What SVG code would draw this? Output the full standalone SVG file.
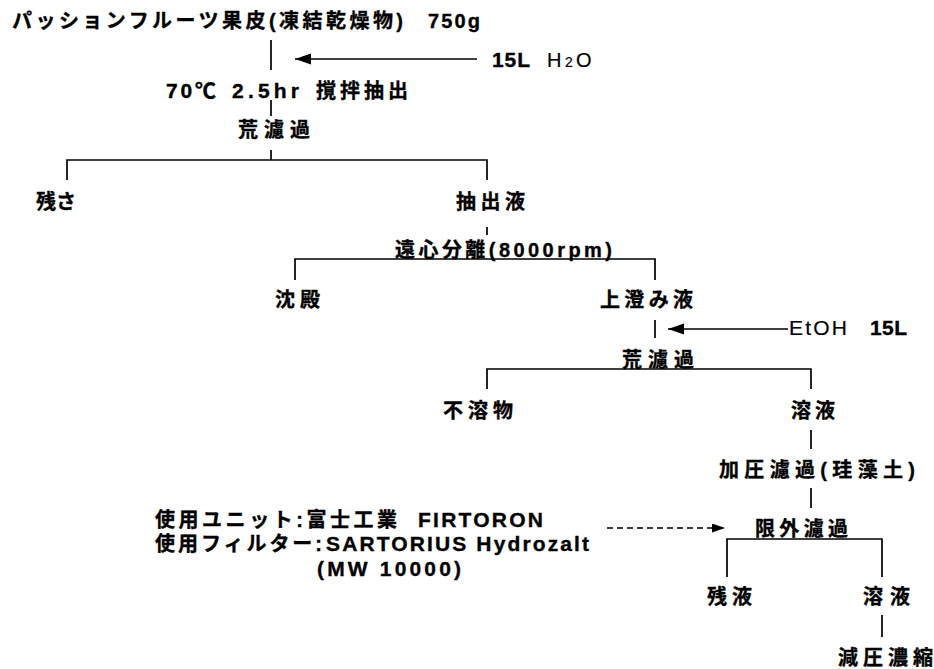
<svg xmlns="http://www.w3.org/2000/svg" width="934" height="669" viewBox="0 0 934 669">
<style>
text{font-family:"Liberation Sans","Noto Sans CJK JP",sans-serif;font-weight:bold;font-size:20px;fill:#000;stroke:#000;stroke-width:0.35}
.n{font-weight:normal;stroke-width:0.2}
.l{font-size:21px}
.c{stroke:#000;stroke-width:1.7;fill:none}
.d{stroke-dasharray:6 4}
</style>
<defs>
<marker id="ah" markerUnits="userSpaceOnUse" markerWidth="17" markerHeight="12" refX="16" refY="5.5" orient="auto"><path d="M0,0 L16,5.5 L0,11 z" fill="#000"/></marker>
<marker id="ahs" markerUnits="userSpaceOnUse" markerWidth="14" markerHeight="10" refX="13" refY="4.5" orient="auto"><path d="M0,0 L13,4.5 L0,9 z" fill="#000"/></marker>
</defs>
<rect width="934" height="669" fill="#fff"/>
<g id="connectors">
<path class="c" d="M271 40 V70"/>
<path class="c" d="M477 59 H295" marker-end="url(#ah)"/>
<path class="c" d="M271 100 V116"/>
<path class="c" d="M271 150 V160 M67 180 V160 H487 V180"/>
<path class="c" d="M487 227 V235"/>
<path class="c" d="M295 280 V259 H655 V280"/>
<path class="c" d="M655 320 V338"/>
<path class="c" d="M788 329 H668" marker-end="url(#ah)"/>
<path class="c" d="M487 389 V369 H811 V389"/>
<path class="c" d="M811 430 V449"/>
<path class="c" d="M811 488 V508"/>
<path class="c d" d="M607 528 H725" marker-end="url(#ahs)"/>
<path class="c" d="M727 577 V539 H882 V577"/>
<path class="c" d="M882 615 V637"/>
</g>
<g id="n-start">
<text x="12" y="28" font-size="21" textLength="391" lengthAdjust="spacing">パッションフルーツ果皮(凍結乾燥物)</text>
<text x="428" y="28" font-size="21" textLength="52" lengthAdjust="spacing">750g</text>
</g>
<g id="n-water">
<text x="492" y="67" class="l" textLength="38" lengthAdjust="spacing">15L</text>
<text x="547" y="67" class="n">H<tspan x="565" font-size="14">2</tspan><tspan x="576">O</tspan></text>
</g>
<g id="n-extract">
<text x="166" y="98" class="l" textLength="50" lengthAdjust="spacing">70℃</text>
<text x="232" y="98" class="l" textLength="67" lengthAdjust="spacing">2.5hr</text>
<text x="316" y="98" textLength="92" lengthAdjust="spacing">撹拌抽出</text>
</g>
<g id="n-filter1"><text x="238" y="137" textLength="72" lengthAdjust="spacing">荒濾過</text></g>
<g id="n-residue"><text x="36" y="209" textLength="40" lengthAdjust="spacing">残さ</text></g>
<g id="n-extract-liquid"><text x="456" y="209" textLength="69" lengthAdjust="spacing">抽出液</text></g>
<g id="n-centrifuge"><text x="395" y="257" textLength="217" lengthAdjust="spacing">遠心分離(8000rpm)</text></g>
<g id="n-precipitate"><text x="275" y="307" textLength="45" lengthAdjust="spacing">沈殿</text></g>
<g id="n-supernatant"><text x="600" y="307" textLength="93" lengthAdjust="spacing">上澄み液</text></g>
<g id="n-etoh">
<text x="789" y="335" class="n l" textLength="58" lengthAdjust="spacing">EtOH</text>
<text x="870" y="335" class="l" textLength="37" lengthAdjust="spacing">15L</text>
</g>
<g id="n-filter2"><text x="622" y="367" textLength="72" lengthAdjust="spacing">荒濾過</text></g>
<g id="n-insoluble"><text x="443" y="418" textLength="70" lengthAdjust="spacing">不溶物</text></g>
<g id="n-solution1"><text x="791" y="418" textLength="44" lengthAdjust="spacing">溶液</text></g>
<g id="n-pressure"><text x="719" y="477" textLength="196" lengthAdjust="spacing">加圧濾過(珪藻土)</text></g>
<g id="n-note">
<text x="155" y="527" textLength="242" lengthAdjust="spacing">使用ユニット:富士工業</text>
<text x="418" y="527" class="l" textLength="125" lengthAdjust="spacing">FIRTORON</text>
<text x="155" y="551" textLength="167" lengthAdjust="spacing">使用フィルター:</text>
<text x="326" y="551" class="l" textLength="263" lengthAdjust="spacing">SARTORIUS Hydrozalt</text>
<text x="317" y="576" class="l" textLength="144" lengthAdjust="spacing">(MW 10000)</text>
</g>
<g id="n-uf"><text x="755" y="536" textLength="93" lengthAdjust="spacing">限外濾過</text></g>
<g id="n-retentate"><text x="707" y="604" textLength="45" lengthAdjust="spacing">残液</text></g>
<g id="n-solution2"><text x="863" y="604" textLength="47" lengthAdjust="spacing">溶液</text></g>
<g id="n-concentrate"><text x="838" y="665" textLength="95" lengthAdjust="spacing">減圧濃縮</text></g>
</svg>
